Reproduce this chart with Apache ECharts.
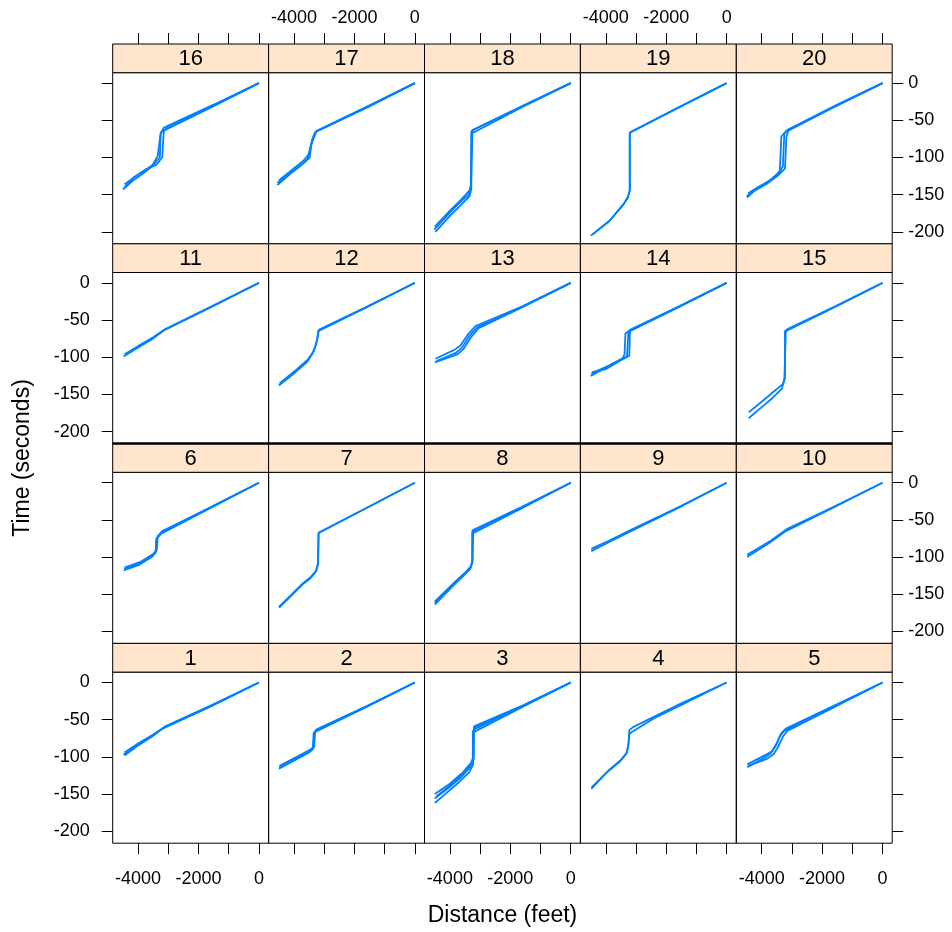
<!DOCTYPE html>
<html>
<head>
<meta charset="utf-8">
<script src="https://cdn.jsdelivr.net/npm/echarts@6/dist/echarts.min.js"></script>
<style>
  html, body { margin: 0; padding: 0; background: #fff; }
  #chart { width: 952px; height: 932px; }
</style>
</head>
<body>
<div id="chart"></div>
<script>
// tick values
const xTicks = [-4000, -3000, -2000, -1000, 0];
const xLabels = [-4000, -2000, 0];
const yTicks = [0, -50, -100, -150, -200];
const xRange = [-4840, 320];
const yRange = [-216, 14];

// each panel: a few runs, each run is [distance, time] pairs
const p1 = [
  [[0, 0], [-1600, -31], [-3100, -59], [-3500, -70], [-4000, -82], [-4450, -94]],
  [[0, 0], [-1600, -32], [-3200, -62], [-3550, -73], [-4050, -86], [-4450, -98]],
  [[0, 0], [-1600, -32], [-3150, -61], [-3520, -72], [-4020, -84], [-4480, -97]]
];
const p2 = [
  [[0, 0], [-1600, -32], [-3250, -63], [-3300, -66], [-3330, -86], [-3450, -90], [-4000, -102], [-4480, -112]],
  [[0, 0], [-1600, -33], [-3280, -66], [-3350, -68], [-3380, -90], [-3500, -94], [-4050, -106], [-4500, -116]],
  [[0, 0], [-1600, -32], [-3260, -64], [-3320, -67], [-3350, -88], [-3480, -92], [-4020, -104], [-4490, -114]]
];
const p3 = [
  [[0, 0], [-1600, -31], [-3200, -59], [-3220, -61], [-3220, -100], [-3300, -108], [-3600, -122], [-4000, -136], [-4500, -150]],
  [[0, 0], [-1600, -32], [-3200, -63], [-3240, -66], [-3240, -106], [-3330, -114], [-3650, -128], [-4050, -142], [-4500, -156]],
  [[0, 0], [-1600, -33], [-3180, -66], [-3230, -69], [-3230, -110], [-3350, -120], [-3700, -134], [-4100, -148], [-4500, -162]],
  [[0, 0], [-1600, -32], [-3200, -61], [-3210, -64], [-3210, -103], [-3320, -111], [-3620, -125], [-4050, -140], [-4450, -153]]
];
const p4 = [
  [[0, 0], [-1500, -28], [-3100, -60], [-3220, -64], [-3240, -80], [-3300, -94], [-3500, -104], [-3900, -118], [-4480, -143]],
  [[0, 0], [-1500, -30], [-2400, -48], [-3150, -67], [-3230, -70], [-3250, -84], [-3320, -96], [-3550, -107], [-4000, -122], [-4470, -141]]
];
const p5 = [
  [[0, 0], [-1600, -31], [-3200, -62], [-3350, -68], [-3480, -80], [-3650, -92], [-3900, -98], [-4480, -110]],
  [[0, 0], [-1600, -33], [-3250, -65], [-3400, -72], [-3520, -84], [-3700, -95], [-3950, -102], [-4480, -114]],
  [[0, 0], [-1600, -33], [-3150, -65], [-3300, -73], [-3450, -86], [-3600, -96], [-3850, -103], [-4450, -112]]
];
const p6 = [
  [[0, 0], [-1600, -33], [-3200, -65], [-3350, -72], [-3380, -90], [-3500, -96], [-3900, -106], [-4450, -114]],
  [[0, 0], [-1600, -34], [-3250, -69], [-3400, -76], [-3420, -94], [-3550, -100], [-3950, -110], [-4480, -118]],
  [[0, 0], [-1600, -33], [-3220, -67], [-3380, -74], [-3400, -92], [-3520, -98], [-3920, -108], [-4460, -116]]
];
const p7 = [
  [[0, 0], [-1600, -34], [-3180, -67], [-3200, -67], [-3200, -108], [-3260, -118], [-3450, -127], [-3700, -135], [-4100, -151], [-4500, -167]],
  [[0, 0], [-1600, -34], [-3190, -68], [-3210, -68], [-3210, -110], [-3280, -120], [-3470, -129], [-3720, -137], [-4120, -153], [-4490, -168]]
];
const p8 = [
  [[0, 0], [-1600, -32], [-3250, -64], [-3260, -68], [-3260, -104], [-3300, -112], [-3500, -121], [-3850, -134], [-4500, -160]],
  [[0, 0], [-1600, -34], [-3230, -68], [-3260, -70], [-3260, -108], [-3330, -116], [-3550, -125], [-3880, -138], [-4500, -164]],
  [[0, 0], [-1600, -33], [-3240, -66], [-3250, -69], [-3250, -106], [-3310, -114], [-3520, -123], [-3870, -136], [-4490, -162]]
];
const p9 = [
  [[0, 0], [-1600, -33], [-3200, -64], [-3900, -78], [-4480, -89]],
  [[0, 0], [-1600, -34], [-3200, -66], [-3900, -80], [-4480, -92]]
];
const p10 = [
  [[0, 0], [-1600, -32], [-3150, -62], [-3700, -78], [-4480, -97]],
  [[0, 0], [-1600, -33], [-3200, -65], [-3750, -81], [-4480, -100]]
];
const p11 = [
  [[0, 0], [-1600, -32], [-3100, -62], [-3500, -73], [-4000, -85], [-4450, -96]],
  [[0, 0], [-1600, -33], [-3150, -64], [-3550, -76], [-4050, -88], [-4480, -99]]
];
const p12 = [
  [[0, 0], [-1600, -32], [-3180, -63], [-3200, -70], [-3250, -80], [-3350, -92], [-3520, -102], [-3900, -116], [-4480, -135]],
  [[0, 0], [-1600, -33], [-3200, -65], [-3230, -75], [-3300, -86], [-3400, -96], [-3560, -106], [-3950, -120], [-4500, -138]]
];
const p13 = [
  [[0, 0], [-1600, -31.5], [-3150, -58], [-3400, -69], [-3650, -84], [-3850, -90], [-4480, -102]],
  [[0, 0], [-1600, -32], [-3100, -60], [-3350, -71], [-3600, -87], [-3800, -94], [-4450, -105]],
  [[0, 0], [-1600, -32.5], [-3050, -61], [-3300, -73], [-3550, -89], [-3750, -96], [-4500, -107]]
];
const p14 = [
  [[0, 0], [-1600, -32], [-3200, -64], [-3220, -98], [-3380, -100], [-3900, -111], [-4480, -122]],
  [[0, 0], [-1600, -32], [-3150, -62], [-3350, -68], [-3380, -96], [-3450, -102], [-3950, -113], [-4500, -125]],
  [[0, 0], [-1600, -33], [-3250, -66], [-3300, -100], [-3500, -104], [-4000, -116], [-4450, -120]]
];
const p15 = [
  [[0, 0], [-1600, -32], [-3150, -62], [-3230, -65], [-3230, -128], [-3300, -136], [-3600, -146], [-3950, -158], [-4430, -174]],
  [[0, 0], [-1600, -33], [-3200, -65], [-3250, -66], [-3250, -130], [-3330, -142], [-3650, -155], [-4000, -167], [-4430, -182]]
];
const p16 = [
  [[0, 0], [-1500, -29], [-3000, -57], [-3150, -60], [-3250, -68], [-3280, -100], [-3450, -108], [-3800, -118], [-4150, -127], [-4450, -140]],
  [[0, 0], [-1500, -30], [-3050, -60], [-3150, -65], [-3200, -100], [-3400, -110], [-3750, -116], [-4100, -126], [-4450, -136]],
  [[0, 0], [-1500, -31], [-3100, -63], [-3250, -66], [-3350, -98], [-3550, -112], [-3850, -122], [-4200, -132], [-4500, -143]]
];
const p17 = [
  [[0, 0], [-1600, -32], [-3250, -64], [-3420, -80], [-3500, -95], [-3680, -104], [-4080, -117], [-4500, -131]],
  [[0, 0], [-1600, -33], [-3300, -66], [-3400, -76], [-3480, -100], [-3700, -108], [-4100, -120], [-4550, -134]],
  [[0, 0], [-1600, -33], [-3270, -65], [-3450, -85], [-3550, -102], [-3750, -110], [-4150, -123], [-4550, -137]]
];
const p18 = [
  [[0, 0], [-1600, -31], [-3250, -63], [-3300, -64], [-3300, -138], [-3360, -145], [-3660, -158], [-3990, -171], [-4500, -193]],
  [[0, 0], [-1600, -32], [-3200, -66], [-3290, -66], [-3290, -142], [-3350, -152], [-3660, -165], [-3990, -178], [-4480, -200]],
  [[0, 0], [-1600, -31], [-3280, -64], [-3310, -65], [-3310, -140], [-3380, -150], [-3680, -161], [-4000, -174], [-4520, -197]]
];
const p19 = [
  [[0, 0], [-1600, -33], [-3200, -66], [-3200, -143], [-3260, -152], [-3400, -162], [-3850, -184], [-4450, -204]],
  [[0, 0], [-1600, -33], [-3210, -67], [-3210, -145], [-3280, -155], [-3450, -165], [-3900, -186], [-4500, -205]]
];
const p20 = [
  [[0, 0], [-1600, -32], [-3150, -63], [-3250, -68], [-3300, -112], [-3420, -120], [-3800, -133], [-4150, -141], [-4480, -154]],
  [[0, 0], [-1600, -31], [-3100, -62], [-3200, -65], [-3350, -72], [-3400, -118], [-3600, -128], [-4000, -137], [-4450, -148]],
  [[0, 0], [-1600, -32], [-3120, -64], [-3180, -72], [-3230, -115], [-3450, -124], [-3850, -136], [-4250, -145], [-4500, -152]]
];
const panels = [p1, p2, p3, p4, p5, p6, p7, p8, p9, p10,
                p11, p12, p13, p14, p15, p16, p17, p18, p19, p20];

(function () {
  var myChart = echarts.init(document.getElementById('chart'));
  const font = "'Liberation Sans', Arial, sans-serif";
  const colLeft = 112.7, colW = 155.9;
  const rowTop = 44, rowH = 199.8, stripH = 28.7, panelH = 171.1;
  const plain = function (v) { return String(v); };

  let grids = [], xAxes = [], yAxes = [], series = [], graphics = [];

  for (let i = 0; i < panels.length; i++) {
    const col = i % 5;
    const r = 3 - Math.floor(i / 5); // 0 = top row on screen
    const left = colLeft + col * colW;
    const stripTop = rowTop + r * rowH;
    const top = stripTop + stripH;

    grids.push({
      left: left, top: top, width: colW, height: panelH,
      show: true, borderColor: '#000', borderWidth: 1, backgroundColor: 'transparent'
    });

    const xShow = r === 0 || r === 3;
    const xLab = (r === 0 && col % 2 === 1) || (r === 3 && col % 2 === 0);
    xAxes.push({
      gridIndex: i, type: 'value', min: xRange[0], max: xRange[1],
      position: r === 0 ? 'top' : 'bottom',
      offset: r === 0 ? stripH : 0,
      show: xShow,
      axisLine: { show: false, onZero: false },
      splitLine: { show: false },
      axisTick: { show: true, inside: false, length: 11, customValues: xTicks,
                  lineStyle: { color: '#000', width: 1 } },
      axisLabel: { show: xLab, customValues: xLabels, formatter: plain, fontSize: 18,
                   color: '#000', fontFamily: font, margin: r === 0 ? 17 : 27 }
    });

    const yShow = col === 0 || col === 4;
    const yLab = (col === 0 && r % 2 === 1) || (col === 4 && r % 2 === 0);
    yAxes.push({
      gridIndex: i, type: 'value', min: yRange[0], max: yRange[1],
      position: col === 4 ? 'right' : 'left',
      show: yShow,
      axisLine: { show: false, onZero: false },
      splitLine: { show: false },
      axisTick: { show: true, inside: false, length: 11, customValues: yTicks,
                  lineStyle: { color: '#000', width: 1 } },
      axisLabel: { show: yLab, customValues: yTicks, formatter: plain, fontSize: 18,
                   color: '#000', fontFamily: font, margin: col === 4 ? 16 : 23,
                   align: col === 4 ? 'left' : 'right' }
    });

    panels[i].forEach(function (run) {
      series.push({
        type: 'line', xAxisIndex: i, yAxisIndex: i, data: run,
        showSymbol: false, silent: true,
        lineStyle: { color: '#0080ff', width: 1.8 }
      });
    });

    // strip with panel number
    graphics.push({
      type: 'rect', shape: { x: left, y: stripTop, width: colW, height: stripH },
      style: { fill: '#ffe5cc', stroke: '#000', lineWidth: 1 }, z: 10
    });
    graphics.push({
      type: 'text', x: left + colW / 2, y: stripTop + stripH / 2 + 1,
      style: { text: String(i + 1), fill: '#000', fontSize: 22, fontFamily: font,
               align: 'center', verticalAlign: 'middle' }, z: 11
    });
  }

  // heavier rule between the middle rows
  graphics.push({
    type: 'line', shape: { x1: colLeft, y1: rowTop + 2 * rowH, x2: colLeft + 5 * colW, y2: rowTop + 2 * rowH },
    style: { stroke: '#000', lineWidth: 2.5 }, z: 12
  });

  graphics.push({
    type: 'text', x: 502.5, y: 916,
    style: { text: 'Distance (feet)', fill: '#000', fontSize: 23, fontFamily: font,
             align: 'center', verticalAlign: 'middle' }
  });
  graphics.push({
    type: 'text', x: 23, y: 458, rotation: Math.PI / 2,
    style: { text: 'Time (seconds)', fill: '#000', fontSize: 23, fontFamily: font,
             align: 'center', verticalAlign: 'middle' }
  });

  var option = {
    animation: false,
    backgroundColor: '#fff',
    grid: grids,
    xAxis: xAxes,
    yAxis: yAxes,
    series: series,
    graphic: graphics
  };
  myChart.setOption(option);
  window.addEventListener('resize', function () {
    myChart.resize();
  });
})();
</script>
</body>
</html>
